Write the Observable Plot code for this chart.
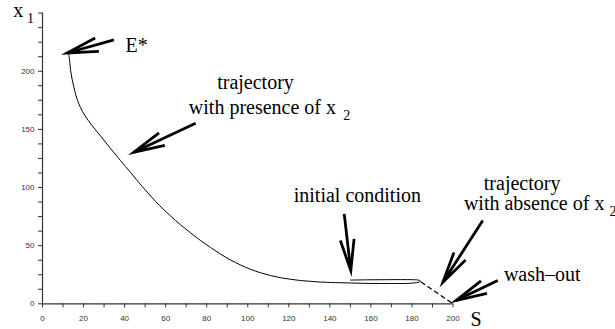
<!DOCTYPE html>
<html>
<head>
<meta charset="utf-8">
<script src="https://cdn.jsdelivr.net/npm/d3@7"></script>
<script src="https://cdn.jsdelivr.net/npm/@observablehq/plot@0.6"></script>
<style>
  html, body { margin: 0; padding: 0; background: #fff; }
</style>
</head>
<body>
<div id="chart"></div>
<script>
// Trajectory with presence of x2 (from E* down to the loop near the initial condition)
const trajS  = [12.8, 13.3, 13.7, 14.4, 15.3, 16.3, 17.7, 19.5, 22.3, 25.1, 28.3, 33.1, 38.0, 42.9, 48.6, 55.1, 62.4, 67.2, 72.1, 77.0, 81.9, 86.7, 91.6, 96.5, 101.3, 106.2, 111.1, 116.0, 120.8, 125.7, 130.6, 135.4, 142.8, 150.1, 159.8, 169.6, 176.9, 180.8, 183.2, 184.2, 183.4, 180.8, 174.4, 164.7, 157.4, 150.1];
const trajX1 = [215.0, 207.5, 200.6, 193.3, 186.3, 179.1, 172.0, 165.4, 157.6, 151.2, 144.3, 133.7, 123.2, 112.9, 100.9, 88.0, 75.5, 68.0, 61.1, 54.4, 48.4, 42.8, 37.7, 33.4, 29.7, 26.7, 24.3, 22.4, 21.1, 20.0, 19.3, 18.7, 18.2, 17.9, 17.5, 17.5, 17.5, 17.9, 18.6, 19.4, 20.3, 20.7, 20.8, 20.7, 20.6, 20.4];

// Trajectory with absence of x2 (dashed, to wash-out)
const absS  = [184.6, 200];
const absX1 = [18.6, 0];

// Axis ticks and labels
const xTicks = [0, 10, 20, 30, 40, 50, 60, 70, 80, 90, 100, 110, 120, 130, 140, 150, 160, 170, 180, 190, 200];
const xTickLabels = [0, 20, 40, 60, 80, 100, 120, 140, 160, 180, 200];
const yTicks = [0, 12.5, 25, 37.5, 50, 62.5, 75, 87.5, 100, 112.5, 125, 137.5, 150, 162.5, 175, 187.5, 200, 212.5, 225, 237.5, 250];
const yTickLabels = [0, 50, 100, 150, 200];

// Annotation arrows (tail -> tip, data units)
const arrowTailS  = [34.8, 74.6, 147.0, 214.5, 221.8];
const arrowTailX1 = [226.9, 155.2, 77.3, 71.6, 20.0];
const arrowTipS   = [12.0, 44.5, 150.2, 195.1, 201.5];
const arrowTipX1  = [215.7, 130.4, 28.6, 18.6, 2.8];

// Annotation texts (left edge / baseline, data units)
const labelText = ["E*", "trajectory", "with presence of x", "initial condition", "trajectory", "with absence of x", "wash\u2013out", "S", "x"];
const labelS    = [40.4, 85.1, 71.3, 122.4, 215.0, 205.3, 224.8, 208.5, -14.3];
const labelX1   = [216.5, 184.9, 163.4, 87.4, 98.0, 80.8, 20.0, -19.5, 246.5];
const subText = ["2", "2", "1"];
const subS    = [146.5, 276.2, -7.5];
const subX1   = [158.2, 75.1, 241.7];

const arrows = arrowTailS.map((s, i) => ({x1: s, y1: arrowTailX1[i], x2: arrowTipS[i], y2: arrowTipX1[i]}));
const traj = trajS.map((s, i) => ({S: s, x1: trajX1[i]}));
const abs = absS.map((s, i) => ({S: s, x1: absX1[i]}));
const labels = labelText.map((t, i) => ({t, S: labelS[i], x1: labelX1[i]}));
const subs = subText.map((t, i) => ({t, S: subS[i], x1: subX1[i]}));

function barbs(color) {
  const m = d3.create("svg:marker")
    .attr("markerUnits", "userSpaceOnUse")
    .attr("orient", "auto")
    .attr("overflow", "visible")
    .attr("markerWidth", 1)
    .attr("markerHeight", 1)
    .attr("refX", 0)
    .attr("refY", 0);
  m.append("path")
    .attr("d", "M-31,-6.9L0,0L-31,6.9")
    .attr("fill", "none")
    .attr("stroke", color)
    .attr("stroke-width", 2.8)
    .attr("stroke-linejoin", "miter")
    .attr("stroke-miterlimit", 10);
  return m.node();
}

const serif = "'Liberation Serif', 'Times New Roman', serif";

const chart = Plot.plot({
  width: 615,
  height: 329,
  marginLeft: 42,
  marginRight: 162.5,
  marginTop: 12.6,
  marginBottom: 25.7,
  x: {domain: [0, 200]},
  y: {domain: [0, 250]},
  style: {fontFamily: "'Liberation Sans', Arial, sans-serif", fontSize: "8px", background: "#fff", overflow: "visible"},
  marks: [
    Plot.axisX({ticks: xTicks, tickFormat: d => xTickLabels.includes(d) ? String(d) : "", tickSize: 4, tickPadding: 8, label: null, stroke: "#333", fill: "#333", fontSize: 8}),
    Plot.axisY({ticks: yTicks, tickFormat: d => yTickLabels.includes(d) ? String(d) : "", tickSize: 4, tickPadding: 4, label: null, stroke: "#333", fill: "#333", fontSize: 8}),
    Plot.ruleX([0], {y1: 0, y2: 250, stroke: "#333", strokeWidth: 1.2}),
    Plot.ruleY([0], {x1: 0, x2: 200, stroke: "#333", strokeWidth: 1.2}),
    Plot.line(traj, {x: "S", y: "x1", curve: "catmull-rom", stroke: "#000", strokeWidth: 1}),
    Plot.line(abs, {x: "S", y: "x1", stroke: "#000", strokeWidth: 1.3, strokeDasharray: "4,4"}),
    Plot.link(arrows, {x1: "x1", y1: "y1", x2: "x2", y2: "y2", stroke: "#000", strokeWidth: 2.8, markerEnd: barbs}),
    Plot.text(labels, {x: "S", y: "x1", text: "t", textAnchor: "start", lineAnchor: "bottom", fontFamily: serif, fontSize: 20, fill: "#000"}),
    Plot.text(subs, {x: "S", y: "x1", text: "t", textAnchor: "start", lineAnchor: "bottom", fontFamily: serif, fontSize: 14, fill: "#000"})
  ]
});
document.getElementById("chart").appendChild(chart);
</script>
</body>
</html>
